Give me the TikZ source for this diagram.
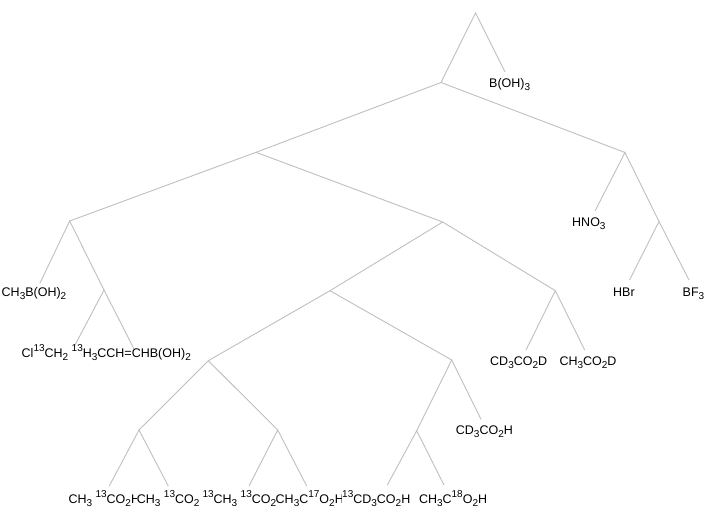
\documentclass[tikz,border=0pt]{standalone}
\usepackage{fontspec}
\setmainfont{Liberation Sans}
\newcommand\isub[1]{\raisebox{-3pt}{\fontsize{10}{10}\selectfont #1}}
\newcommand\isup[1]{\raisebox{5.2pt}{\fontsize{10}{10}\selectfont #1}}
\tikzset{
  branch/.style={draw=black!25, line width=0.9pt},
  leaf/.style={inner sep=0pt, anchor=base west, font=\fontsize{12.5}{12.5}\selectfont, text=black},
  wleaf/.style={leaf, fill=white}
}
\begin{document}
\begin{tikzpicture}[x=1pt,y=-1pt]
\useasboundingbox (0,0) rectangle (708,514);
% branch points
\coordinate (r0) at (475.5,13);
\coordinate (n1) at (441,82.5);
\coordinate (n2) at (625,152.5);
\coordinate (n3) at (659,221.5);
\coordinate (n4) at (256,152.3);
\coordinate (n5) at (69.7,221);
\coordinate (n6) at (104,290);
\coordinate (n7) at (442.7,222);
\coordinate (n8) at (330,290.7);
\coordinate (n9) at (555.3,290.7);
\coordinate (n10) at (208.3,360.7);
\coordinate (n11) at (451.7,360);
\coordinate (n12) at (416.7,430.7);
\coordinate (n13) at (139,430);
\coordinate (n14) at (277.7,430);
% leaf ends
\coordinate (eBOH) at (505,72);
\coordinate (eHNO) at (595,211);
\coordinate (eHBr) at (629.5,280);
\coordinate (eBF) at (689,280);
\coordinate (eCHB) at (40,283);
\coordinate (eCl) at (74,347);
\coordinate (eHC) at (134,349);
\coordinate (eCDD) at (526,350);
\coordinate (eCHD) at (584.7,350);
\coordinate (eCDH) at (481,419.3);
\coordinate (eL1) at (109.3,486);
\coordinate (eL2) at (168.3,486);
\coordinate (eL3) at (249,486);
\coordinate (eL4) at (306.7,486);
\coordinate (eL5) at (387.3,485);
\coordinate (eL6) at (444,485);
% connectors
\draw[branch] (eBOH) -- (r0) -- (n1);
\draw[branch] (n4) -- (n1) -- (n2);
\draw[branch] (eHNO) -- (n2) -- (n3);
\draw[branch] (eHBr) -- (n3) -- (eBF);
\draw[branch] (n5) -- (n4) -- (n7);
\draw[branch] (eCHB) -- (n5) -- (n6);
\draw[branch] (eCl) -- (n6) -- (eHC);
\draw[branch] (n8) -- (n7) -- (n9);
\draw[branch] (eCDD) -- (n9) -- (eCHD);
\draw[branch] (n10) -- (n8) -- (n11);
\draw[branch] (n12) -- (n11) -- (eCDH);
\draw[branch] (eL5) -- (n12) -- (eL6);
\draw[branch] (n13) -- (n10) -- (n14);
\draw[branch] (eL1) -- (n13) -- (eL2);
\draw[branch] (eL3) -- (n14) -- (eL4);
% labels
\node[leaf] (tBOH) at (489,87) {B(OH)\isub{3}};
\node[leaf] (tHNO) at (572,226) {HNO\isub{3}};
\node[leaf] (tHBr) at (613,296) {HBr};
\node[leaf] (tBF) at (682.5,296) {BF\isub{3}};
\node[leaf] (tCHB) at (1.5,296) {CH\isub{3}B(OH)\isub{2}};
\node[leaf] (tCl) at (21.5,357) {Cl\isup{13}CH\isub{2}};
\node[leaf] (tHC) at (71.5,357) {\isup{13}H\isub{3}CCH=CHB(OH)\isub{2}};
\node[leaf] (tCDD) at (490,365) {CD\isub{3}CO\isub{2}D};
\node[leaf] (tCHD) at (559.3,365) {CH\isub{3}CO\isub{2}D};
\node[leaf] (tCDH) at (455.7,434) {CD\isub{3}CO\isub{2}H};
\node[wleaf] (tL1) at (68.3,503) {CH\isub{3} \isup{13}CO\isub{2}H};
\node[wleaf] (tL2) at (136.7,503) {CH\isub{3} \isup{13}CO\isub{2}};
\node[wleaf] (tL3) at (202.3,503) {\isup{13}CH\isub{3} \isup{13}CO\isub{2}};
\node[wleaf] (tL4) at (275.5,503) {CH\isub{3}C\isup{17}O\isub{2}H};
\node[wleaf] (tL5) at (342,503) {\isup{13}CD\isub{3}CO\isub{2}H};
\node[wleaf, anchor=base east] (tL6) at (487.3,503) {CH\isub{3}C\isup{18}O\isub{2}H};
\end{tikzpicture}
\end{document}
